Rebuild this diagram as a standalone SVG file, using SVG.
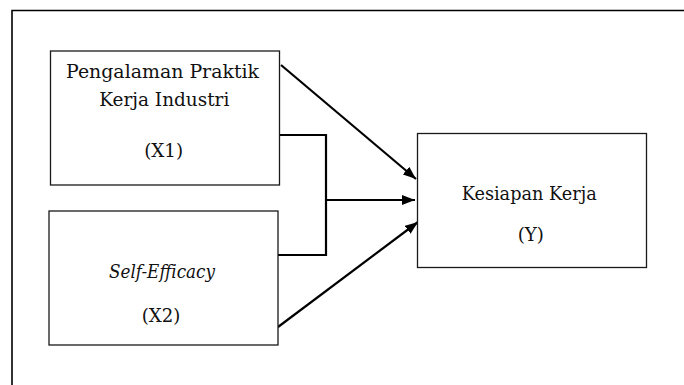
<svg xmlns="http://www.w3.org/2000/svg" width="684" height="385" viewBox="0 0 684 385">
  <defs>
    <style>
      .box { fill: #ffffff; stroke: #1a1a1a; stroke-width: 1.3; }
      .lbl { font-family: "DejaVu Serif", "Liberation Serif", serif; font-size: 19px; fill: #111111; text-anchor: middle; }
      .it { font-style: italic; }
      .con { fill: none; stroke: #000000; stroke-width: 2.2; }
    </style>
    <marker id="arr" viewBox="0 0 13 10" refX="13" refY="5" markerWidth="13" markerHeight="10" markerUnits="userSpaceOnUse" orient="auto">
      <path d="M0,0 L13,5 L0,10 Z" fill="#000000"/>
    </marker>
  </defs>
  <rect x="0" y="0" width="684" height="385" fill="#ffffff"/>
  <path d="M12,390 V10.5 H690" fill="none" stroke="#000000" stroke-width="1.6"/>

  <g id="connectors">
    <path class="con" d="M279,135 H326 V255 H278"/>
    <line class="con" x1="326" y1="200" x2="415" y2="200" marker-end="url(#arr)"/>
    <line class="con" x1="281" y1="65" x2="416" y2="179" marker-end="url(#arr)"/>
    <line class="con" x1="278" y1="327" x2="418" y2="222" marker-end="url(#arr)"/>
  </g>

  <g id="node-x1">
    <rect class="box" x="50.5" y="51" width="229" height="134"/>
    <text class="lbl" x="162.5" y="77.5" textLength="193" lengthAdjust="spacingAndGlyphs">Pengalaman Praktik</text>
    <text class="lbl" x="164.3" y="106" textLength="130" lengthAdjust="spacingAndGlyphs">Kerja Industri</text>
    <text class="lbl" x="163.7" y="156.5" textLength="39" lengthAdjust="spacingAndGlyphs">(X1)</text>
  </g>

  <g id="node-x2">
    <rect class="box" x="49" y="211" width="229" height="134"/>
    <text class="lbl it" x="162" y="278" textLength="106" lengthAdjust="spacingAndGlyphs">Self-Efficacy</text>
    <text class="lbl" x="161" y="321.5" textLength="38.6" lengthAdjust="spacingAndGlyphs">(X2)</text>
  </g>

  <g id="node-y">
    <rect class="box" x="417.5" y="133.5" width="229" height="134"/>
    <text class="lbl" x="529.2" y="200" textLength="135" lengthAdjust="spacingAndGlyphs">Kesiapan Kerja</text>
    <text class="lbl" x="530.8" y="240.5" textLength="26.3" lengthAdjust="spacingAndGlyphs">(Y)</text>
  </g>
</svg>
